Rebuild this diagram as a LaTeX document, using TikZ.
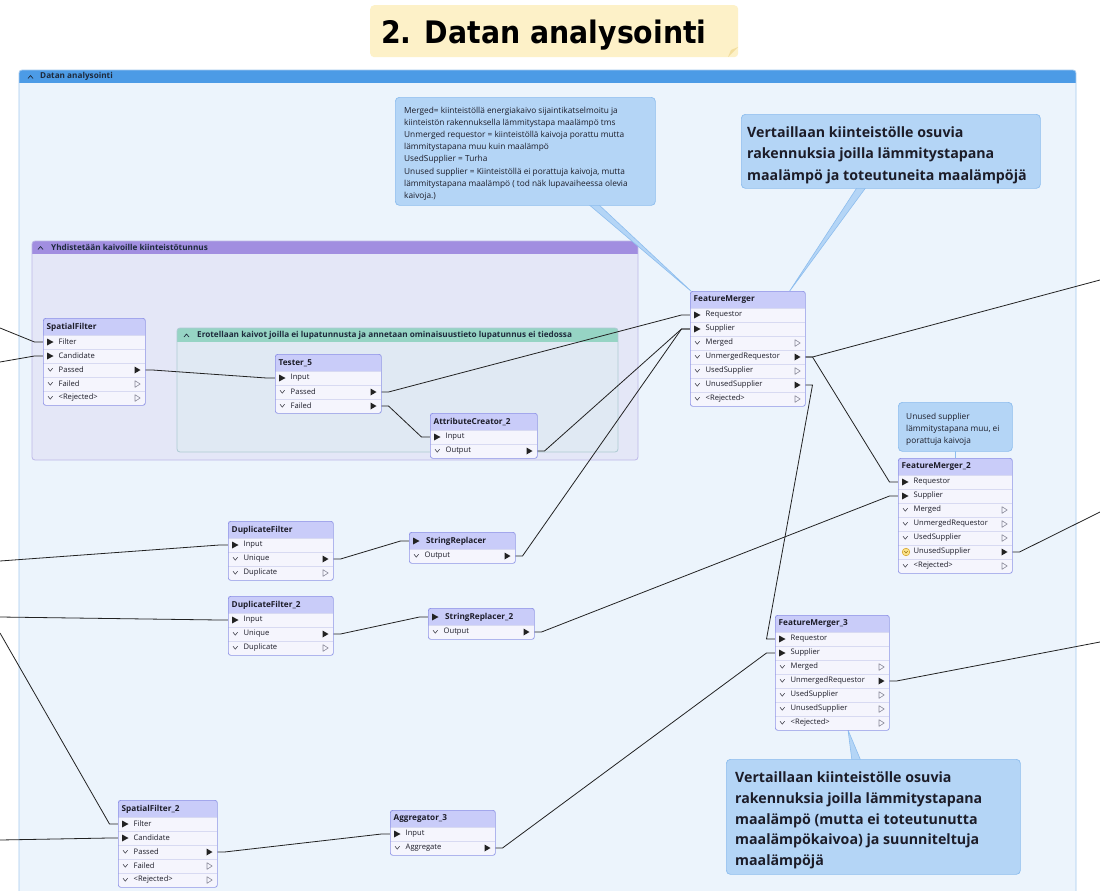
\documentclass[tikz,border=0pt]{standalone}
\usepackage{fontspec}
\usepackage{graphicx}
\newfontfamily\uifont{Open Sans}
\newfontfamily\ttlfont{DejaVu Sans}
\usetikzlibrary{calc}
\pgfdeclarelayer{back}
\pgfdeclarelayer{wires}
\pgfsetlayers{back,wires,main}

\definecolor{titlefill}{HTML}{FDF1C8}
\definecolor{titlefold}{HTML}{F2DD9C}
\definecolor{mainhead}{HTML}{4C9BE6}
\definecolor{mainbody}{HTML}{ECF4FC}
\definecolor{mainborder}{HTML}{A6CBEF}
\definecolor{purphead}{HTML}{A18EE0}
\definecolor{purpbody}{HTML}{E4E7F7}
\definecolor{purpborder}{HTML}{BDB8E8}
\definecolor{tealhead}{HTML}{96D4C4}
\definecolor{tealbody}{HTML}{E0E9F3}
\definecolor{tealborder}{HTML}{AECBD3}
\definecolor{xhead}{HTML}{C9CCF9}
\definecolor{xrow}{HTML}{F5F5FD}
\definecolor{xborder}{HTML}{8F94E6}
\definecolor{xsep}{HTML}{D8DAF2}
\definecolor{notefill}{HTML}{B4D5F6}
\definecolor{noteborder}{HTML}{8DBDEE}
\definecolor{wirec}{HTML}{222222}
\definecolor{txtc}{HTML}{1C1C28}
\definecolor{hdrc}{HTML}{1E2A3C}
\definecolor{offc}{HTML}{8A8A9A}
\definecolor{yel}{HTML}{FCE38A}
\definecolor{yelb}{HTML}{D4A020}

% One transformer: name, left, top, width, rows, title input (0/1), title, rows as kind/label
% kinds: 0 input, 1 connected output, 2 open output, 3 connected output with marker
\newcommand{\xfm}[8]{%
  \pgfmathsetmacro{\xh}{17+14*#5}%
  \begin{scope}
    \clip[rounded corners=2.5pt] (#2,#3) rectangle ++(#4,\xh);
    \fill[xrow] (#2,#3) rectangle ++(#4,\xh);
    \fill[xhead] (#2,#3) rectangle ++(#4,17);
    \foreach \k in {1,...,#5} {\draw[xsep, line width=0.6pt] (#2,#3+3+14*\k) -- ++(#4,0);}
  \end{scope}
  \node[draw=xborder, line width=0.7pt, rounded corners=2.5pt, minimum width=#4pt,
        minimum height=\xh pt, inner sep=0pt, anchor=north west] (#1) at (#2,#3) {};
  \ifnum#6=1
    \fill[wirec] (#2+4,#3+5.5) -- (#2+10.5,#3+9) -- (#2+4,#3+12.5) -- cycle;
    \coordinate (#1-0) at (#2+5,#3+9);
    \node[xtitle] (#1-t) at (#2+17,#3+9) {#7};
  \else
    \node[xtitle] (#1-t) at (#2+3.5,#3+9) {#7};
  \fi
  \foreach \kind/\lab [count=\i] in {#8} {
    \pgfmathsetmacro{\ry}{#3+24+14*(\i-1)}
    \node[xlabel] (#1-l\i) at (#2+15.5,\ry) {\lab};
    \ifcase\kind\relax
      \fill[wirec] (#2+4,\ry-3.5) -- (#2+10.5,\ry) -- (#2+4,\ry+3.5) -- cycle;
      \coordinate (#1-\i) at (#2+5,\ry);
    \or
      \draw[chev] (#2+5,\ry-1.8) -- (#2+7.3,\ry+1.2) -- (#2+9.6,\ry-1.8);
      \fill[wirec] (#2+#4-10.5,\ry-3.5) -- (#2+#4-4.5,\ry) -- (#2+#4-10.5,\ry+3.5) -- cycle;
      \coordinate (#1-\i) at (#2+#4-4.5,\ry);
    \or
      \draw[chev] (#2+5,\ry-1.8) -- (#2+7.3,\ry+1.2) -- (#2+9.6,\ry-1.8);
      \draw[offc, line width=0.6pt, line join=round] (#2+#4-10,\ry-3.3) -- (#2+#4-4.8,\ry) -- (#2+#4-10,\ry+3.3) -- cycle;
    \or
      \filldraw[fill=yel, draw=yelb, line width=0.5pt] (#2+8,\ry) circle (3.8);
      \draw[yelb!70!black, line width=0.5pt] (#2+6.3,\ry-1) -- (#2+8,\ry+1) -- (#2+9.7,\ry-1);
      \fill[wirec] (#2+#4-10.5,\ry-3.5) -- (#2+#4-4.5,\ry) -- (#2+#4-10.5,\ry+3.5) -- cycle;
      \coordinate (#1-\i) at (#2+#4-4.5,\ry);
    \fi
  }
}

% Lines of a note: name prefix, style, left x, first baseline, line step, lines
\newcommand{\notelines}[6]{%
  \foreach \t [count=\i] in {#6} {\node[#2, anchor=base west, inner sep=0pt] (#1-\i) at (#3,#4+#5*\i-#5) {\t};}
}

\tikzset{
  xtitle/.style={anchor=west, inner sep=0pt, text=txtc, font=\uifont\bfseries\fontsize{8.2}{9}\selectfont},
  xlabel/.style={anchor=west, inner sep=0pt, text=txtc, font=\uifont\fontsize{7.6}{9}\selectfont},
  chev/.style={draw=txtc!80, line width=0.6pt, line join=round},
  hdr/.style={anchor=west, inner sep=0pt, text=hdrc, font=\uifont\bfseries\fontsize{8.2}{9}\selectfont},
  caret/.style={draw=hdrc, line width=0.7pt, line join=round},
  smallnote/.style={text=txtc, font=\uifont\fontsize{8.3}{10}\selectfont},
  bignote/.style={text=txtc, font=\uifont\bfseries\fontsize{14.2}{16}\selectfont},
  notebox/.style={fill=notefill, draw=noteborder, line width=0.7pt, rounded corners=4pt, inner sep=0pt, anchor=north west},
  tail/.style={fill=notefill, draw=noteborder, line width=0.6pt, line join=round},
  wire/.style={draw=wirec, line width=0.8pt, line join=round,
    to path={-- ++(12,0) -- ([xshift=-13.5pt]\tikztotarget) -- (\tikztotarget)}},
  inwire/.style={draw=wirec, line width=0.8pt, line join=round,
    to path={-- ([xshift=-13.5pt]\tikztotarget) -- (\tikztotarget)}},
  outwire/.style={draw=wirec, line width=0.8pt, line join=round,
    to path={-- ++(12,0) -- (\tikztotarget)}},
}

\begin{document}
\begin{tikzpicture}[x=1pt,y=-1pt]
\useasboundingbox (0,0) rectangle (1100,891);

\begin{pgfonlayer}{back}
  \fill[white] (0,0) rectangle (1100,891);

  % page title
  \node[fill=titlefill, rounded corners=4pt, minimum width=368pt, minimum height=52pt,
        inner sep=0pt, anchor=north west] (title) at (370,5) {};
  \fill[titlefold] (728,57) -- (738,47) -- (731,50) -- cycle;
  \node[anchor=base west, inner sep=0pt, text=black,
        font=\ttlfont\bfseries\fontsize{31}{31}\selectfont] (titletext) at (381,43.5)
        {\scalebox{0.915}[1]{2. Datan analysointi}};

  % outer bookmark
  \begin{scope}
    \clip (0,0) rectangle (1100,891);
    \fill[mainbody] (19,70) [rounded corners=3pt] rectangle (1076,900);
    \begin{scope}
      \clip[rounded corners=3pt] (19,70) rectangle (1076,900);
      \fill[mainhead] (19,70) rectangle (1076,83);
    \end{scope}
    \draw[mainborder, line width=0.8pt, rounded corners=3pt] (19,70) rectangle (1076,900);
  \end{scope}
  \draw[caret] (28,78.5) -- (30.5,75.5) -- (33,78.5);
  \node[hdr] (bm1) at (40,76.8) {Datan analysointi};

  % bookmark: property ids for wells
  \fill[purpbody, rounded corners=3pt] (32,241) rectangle (638,460);
  \begin{scope}
    \clip[rounded corners=3pt] (32,241) rectangle (638,460);
    \fill[purphead] (32,241) rectangle (638,254);
  \end{scope}
  \draw[purpborder, line width=0.8pt, rounded corners=3pt] (32,241) rectangle (638,460);
  \draw[caret] (38,249.5) -- (40.5,246.5) -- (43,249.5);
  \node[hdr] (bm2) at (51,247.8) {Yhdistetään kaivoille kiinteistötunnus};

  % bookmark: wells without permit id
  \fill[tealbody, rounded corners=3pt] (177,328) rectangle (618,452);
  \begin{scope}
    \clip[rounded corners=3pt] (177,328) rectangle (618,452);
    \fill[tealhead] (177,328) rectangle (618,342);
  \end{scope}
  \draw[tealborder, line width=0.8pt, rounded corners=3pt] (177,328) rectangle (618,452);
  \draw[caret] (184,337) -- (186.5,334) -- (189,337);
  \node[hdr] (bm3) at (197,335.3) {Erotellaan kaivot joilla ei lupatunnusta ja annetaan ominaisuustieto lupatunnus ei tiedossa};

  % notes
  \filldraw[tail] (587,203) -- (692,292) -- (597,203) -- cycle;
  \node[notebox, minimum width=260pt, minimum height=108pt] (n1) at (395,97) {};
  \notelines{n1t}{smallnote}{404}{113.5}{12.1}{
    Merged= kiinteistöllä energiakaivo sijaintikatselmoitu ja,
    kiinteistön rakennuksella lämmitystapa maalämpö tms,
    Unmerged requestor = kiinteistöllä kaivoja porattu mutta,
    lämmitystapana muu kuin maalämpö,
    UsedSupplier = Turha,
    {Unused supplier = Kiinteistöllä ei porattuja kaivoja, mutta},
    lämmitystapana maalämpö ( tod näk lupavaiheessa olevia,
    kaivoja.)}

  \filldraw[tail] (858,186) -- (789,292) -- (867,186) -- cycle;
  \node[notebox, minimum width=299pt, minimum height=74pt] (n2) at (741,114) {};
  \notelines{n2t}{bignote}{747}{137}{21.5}{
    Vertaillaan kiinteistölle osuvia,
    rakennuksia joilla lämmitystapana,
    maalämpö ja toteutuneita maalämpöjä}

  \draw[noteborder, line width=1pt] (955,450) -- (955,459);
  \node[notebox, minimum width=114pt, minimum height=49pt] (n3) at (898,402) {};
  \notelines{n3t}{smallnote}{906}{419.5}{11.8}{
    Unused supplier,
    {lämmitystapana muu, ei},
    porattuja kaivoja}

  \filldraw[tail] (852,761) -- (848,730) -- (861,761) -- cycle;
  \node[notebox, minimum width=294pt, minimum height=115pt] (n4) at (726,759) {};
  \notelines{n4t}{bignote}{735}{782.5}{20.8}{
    Vertaillaan kiinteistölle osuvia,
    rakennuksia joilla lämmitystapana,
    maalämpö (mutta ei toteutunutta,
    maalämpökaivoa) ja suunniteltuja,
    maalämpöjä}
\end{pgfonlayer}

% transformers
\xfm{SF}{43}{318}{102}{5}{0}{SpatialFilter}{0/Filter,0/Candidate,1/Passed,2/Failed,2/<Rejected>}
\xfm{TF}{275}{354}{106}{3}{0}{Tester\_5}{0/Input,1/Passed,1/Failed}
\xfm{AC}{430}{413}{107}{2}{0}{AttributeCreator\_2}{0/Input,1/Output}
\xfm{FM}{690}{291}{115}{7}{0}{FeatureMerger}{0/Requestor,0/Supplier,2/Merged,1/UnmergedRequestor,2/UsedSupplier,1/UnusedSupplier,2/<Rejected>}
\xfm{FMB}{898}{458}{114}{7}{0}{FeatureMerger\_2}{0/Requestor,0/Supplier,2/Merged,2/UnmergedRequestor,2/UsedSupplier,3/UnusedSupplier,2/<Rejected>}
\xfm{DF}{228}{521}{105}{3}{0}{DuplicateFilter}{0/Input,1/Unique,2/Duplicate}
\xfm{SR}{409}{532}{106}{1}{1}{StringReplacer}{1/Output}
\xfm{DFB}{228}{596}{105}{3}{0}{DuplicateFilter\_2}{0/Input,1/Unique,2/Duplicate}
\xfm{SRB}{428}{608}{106}{1}{1}{StringReplacer\_2}{1/Output}
\xfm{FMC}{775}{615}{114}{7}{0}{FeatureMerger\_3}{0/Requestor,0/Supplier,2/Merged,1/UnmergedRequestor,2/UsedSupplier,2/UnusedSupplier,2/<Rejected>}
\xfm{SFB}{118}{800}{99}{5}{0}{SpatialFilter\_2}{0/Filter,0/Candidate,1/Passed,2/Failed,2/<Rejected>}
\xfm{AG}{390}{810}{105}{2}{0}{Aggregator\_3}{0/Input,1/Aggregate}

% connections
\begin{pgfonlayer}{wires}
  \coordinate (L1) at (0,328);
  \coordinate (L2) at (0,362);
  \coordinate (L3) at (0,561);
  \coordinate (L4) at (0,617);
  \coordinate (L5) at (0,633);
  \coordinate (L6) at (0,840);
  \coordinate (R1) at (1100,280);
  \coordinate (R2) at (1100,512);
  \coordinate (R3) at (1100,642);

  \draw[inwire] (L1) to (SF-1);
  \draw[inwire] (L2) to (SF-2);
  \draw[wire] (SF-3) to (TF-1);
  \draw[wire] (TF-2) to (FM-1);
  \draw[wire] (TF-3) to (AC-1);
  \draw[wire] (AC-2) to (FM-2);
  \draw[wire] (SR-1) to (FM-2);
  \draw[outwire] (FM-4) to (R1);
  \draw[wire] (FM-4) to (FMB-1);
  \draw[wire] (FM-6) to (FMC-1);
  \draw[inwire] (L3) to (DF-1);
  \draw[wire] (DF-2) to (SR-0);
  \draw[inwire] (L4) to (DFB-1);
  \draw[wire] (DFB-2) to (SRB-0);
  \draw[wire] (SRB-1) to (FMB-2);
  \draw[outwire] (FMB-6) to (R2);
  \draw[outwire] (FMC-4) to (R3);
  \draw[inwire] (L5) to (SFB-1);
  \draw[inwire] (L6) to (SFB-2);
  \draw[wire] (SFB-3) to (AG-1);
  \draw[wire] (AG-2) to (FMC-2);
\end{pgfonlayer}
\end{tikzpicture}
\end{document}
